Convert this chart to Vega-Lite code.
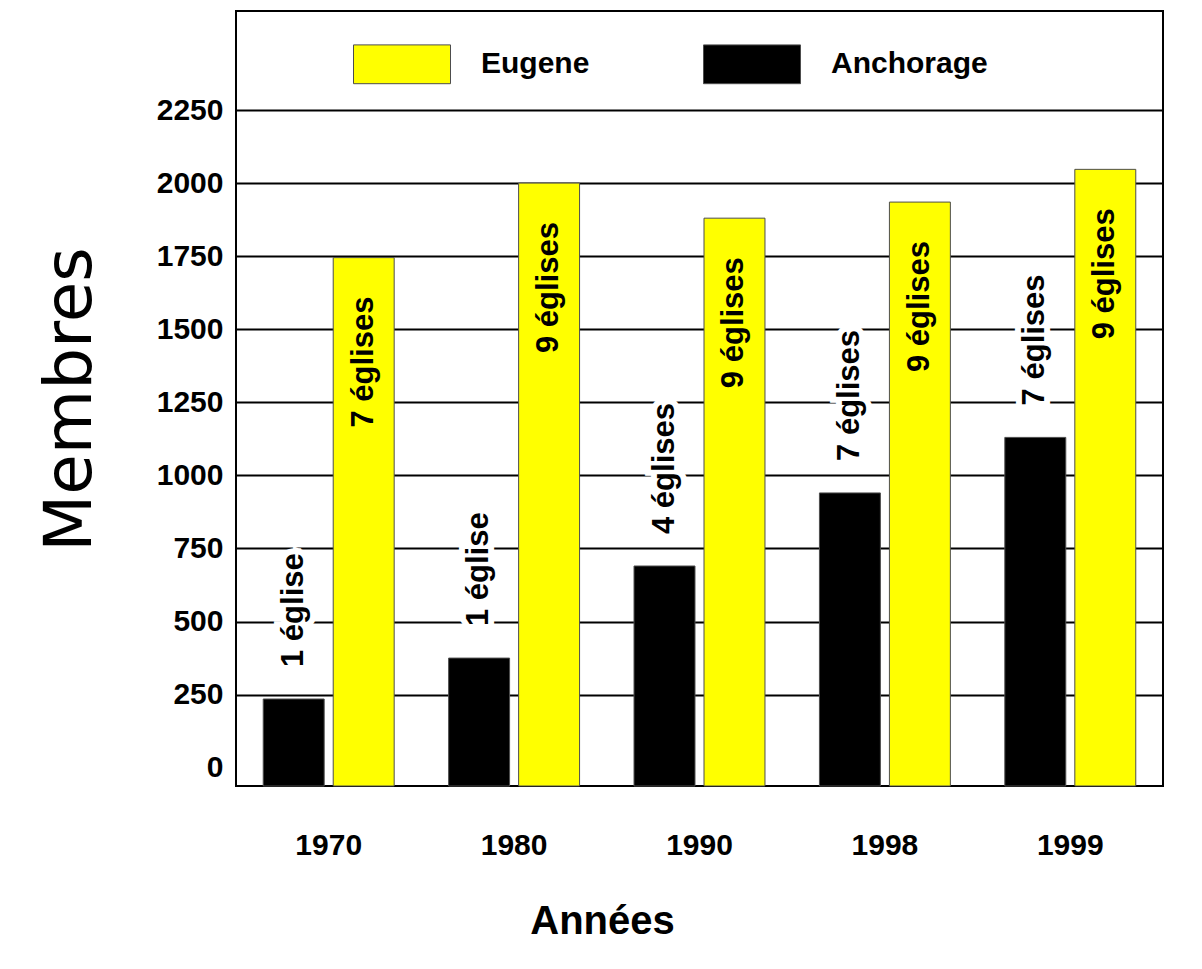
{
  "$schema": "https://vega.github.io/schema/vega-lite/v6.json",
  "autosize": {"type": "none"},
  "padding": {"left": 236, "top": 11, "right": 39, "bottom": 183},
  "width": 927,
  "height": 775,
  "background": "white",
  "config": {
    "font": "Liberation Sans",
    "view": {"stroke": "black", "strokeWidth": 2},
    "axis": {"grid": false}
  },
  "data": {
    "values": [
      {"year": "1970", "city": "Anchorage", "members": 235, "label": "1 église"},
      {"year": "1970", "city": "Eugene", "members": 1745, "label": "7 églises"},
      {"year": "1980", "city": "Anchorage", "members": 375, "label": "1 église"},
      {"year": "1980", "city": "Eugene", "members": 2000, "label": "9 églises"},
      {"year": "1990", "city": "Anchorage", "members": 690, "label": "4 églises"},
      {"year": "1990", "city": "Eugene", "members": 1880, "label": "9 églises"},
      {"year": "1998", "city": "Anchorage", "members": 940, "label": "7 églises"},
      {"year": "1998", "city": "Eugene", "members": 1935, "label": "9 églises"},
      {"year": "1999", "city": "Anchorage", "members": 1130, "label": "7 églises"},
      {"year": "1999", "city": "Eugene", "members": 2047, "label": "9 églises"}
    ]
  },
  "encoding": {
    "x": {
      "field": "year", "type": "nominal",
      "scale": {"paddingInner": 0, "paddingOuter": 0},
      "axis": {
        "labelAngle": 0, "labelFontSize": 30, "labelFontWeight": "bold", "labelColor": "black",
        "labelPadding": 44, "ticks": false, "domain": false,
        "title": "Années", "titleFontSize": 40, "titleFontWeight": "bold", "titleColor": "black",
        "titleX": 366, "titleY": 147, "titleBaseline": "alphabetic", "titleAlign": "center"
      }
    },
    "xOffset": {
      "field": "city", "type": "nominal",
      "scale": {"domain": ["Anchorage", "Eugene"], "paddingInner": 0.129, "paddingOuter": 0.389}
    },
    "y": {
      "field": "members", "type": "quantitative",
      "scale": {"domain": [-62.6, 2588.7], "nice": false, "zero": false},
      "axis": {
        "values": [0, 250, 500, 750, 1000, 1250, 1500, 1750, 2000, 2250],
        "format": "d",
        "grid": true, "gridColor": "black", "gridWidth": 2,
        "gridOpacity": {"condition": {"test": "datum.value === 0", "value": 0}, "value": 1},
        "labelFontSize": 30, "labelFontWeight": "bold", "labelColor": "black", "labelPadding": 13,
        "ticks": false, "domain": false,
        "title": "Membres", "titleFont": "DejaVu Sans", "titleFontWeight": "normal", "titleFontSize": 66,
        "titleColor": "black", "titleAngle": 270, "titleX": -166, "titleY": 388,
        "titleBaseline": "middle", "titleAlign": "center"
      }
    }
  },
  "layer": [
    {
      "mark": {"type": "bar", "stroke": "#4d4d4d", "strokeWidth": 1},
      "encoding": {
        "y2": {"datum": -62.6},
        "color": {
          "field": "city", "type": "nominal",
          "scale": {"domain": ["Eugene", "Anchorage"], "range": ["#ffff00", "#000000"]},
          "legend": {
            "title": null, "orient": "none", "legendX": 117, "legendY": 4,
            "direction": "horizontal", "columns": 2, "columnPadding": 111, "padding": 0,
            "labelOffset": 30, "labelFontSize": 30, "labelFontWeight": "bold", "labelColor": "black",
            "symbolType": "M-1,-0.4H1V0.4H-1Z", "symbolSize": 9409,
            "symbolStrokeColor": "#4d4d4d", "symbolStrokeWidth": 1, "symbolOpacity": 1
          }
        }
      }
    },
    {
      "transform": [{"filter": "datum.city === 'Anchorage'"}],
      "mark": {"type": "text", "angle": 270, "align": "left", "baseline": "middle", "dx": 32,
               "fontSize": 31, "fontWeight": "bold", "stroke": "white", "strokeWidth": 12, "fill": "white"},
      "encoding": {"text": {"field": "label"}}
    },
    {
      "transform": [{"filter": "datum.city === 'Anchorage'"}],
      "mark": {"type": "text", "angle": 270, "align": "left", "baseline": "middle", "dx": 32,
               "fontSize": 31, "fontWeight": "bold", "color": "black"},
      "encoding": {"text": {"field": "label"}}
    },
    {
      "transform": [{"filter": "datum.city === 'Eugene'"}],
      "mark": {"type": "text", "angle": 270, "align": "right", "baseline": "middle", "dx": -39,
               "fontSize": 31, "fontWeight": "bold", "color": "black"},
      "encoding": {"text": {"field": "label"}}
    }
  ]
}
